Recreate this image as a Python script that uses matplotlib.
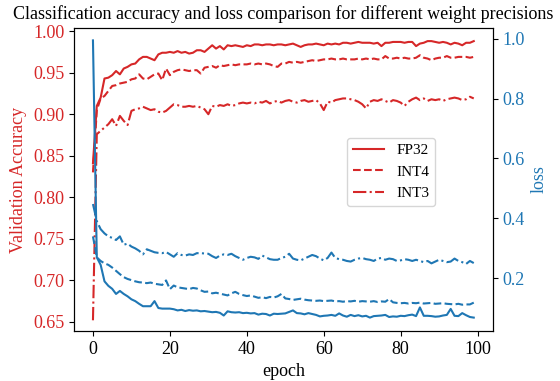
import numpy as np
import matplotlib
matplotlib.use("Agg")
import matplotlib.pyplot as plt

plt.rcParams['font.family'] = ['Liberation Serif', 'DejaVu Serif']
plt.rcParams['mathtext.fontset'] = 'stix'

# エポック
epochs = np.arange(100)

# 検証精度
acc_fp32 = [
    0.841, 0.910, 0.920, 0.943, 0.944, 0.947, 0.952, 0.948, 0.955, 0.957,
    0.960, 0.961, 0.966, 0.969, 0.969, 0.967, 0.965, 0.972, 0.974, 0.974,
    0.975, 0.974, 0.976, 0.974, 0.975, 0.973, 0.974, 0.977, 0.977, 0.975,
    0.979, 0.983, 0.979, 0.982, 0.978, 0.983, 0.982, 0.983, 0.982, 0.981,
    0.983, 0.982, 0.984, 0.984, 0.983, 0.984, 0.984, 0.983, 0.984, 0.984,
    0.983, 0.984, 0.985, 0.983, 0.981, 0.983, 0.984, 0.984, 0.985, 0.984,
    0.983, 0.985, 0.984, 0.985, 0.984, 0.986, 0.986, 0.985, 0.986, 0.987,
    0.986, 0.986, 0.986, 0.985, 0.986, 0.982, 0.986, 0.986, 0.987, 0.987,
    0.987, 0.986, 0.987, 0.987, 0.982, 0.985, 0.986, 0.988, 0.988, 0.987,
    0.986, 0.987, 0.986, 0.984, 0.986, 0.985, 0.983, 0.986, 0.986, 0.988,
]
acc_int4 = [
    0.830, 0.905, 0.919, 0.922, 0.928, 0.934, 0.935, 0.937, 0.938, 0.939,
    0.942, 0.943, 0.948, 0.943, 0.942, 0.945, 0.948, 0.949, 0.941, 0.955,
    0.947, 0.951, 0.953, 0.954, 0.953, 0.952, 0.953, 0.953, 0.949, 0.956,
    0.957, 0.958, 0.956, 0.959, 0.958, 0.959, 0.960, 0.959, 0.960, 0.960,
    0.960, 0.961, 0.960, 0.961, 0.960, 0.961, 0.960, 0.958, 0.957, 0.961,
    0.961, 0.963, 0.962, 0.963, 0.962, 0.963, 0.964, 0.965, 0.964, 0.965,
    0.966, 0.966, 0.967, 0.966, 0.966, 0.967, 0.966, 0.966, 0.966, 0.967,
    0.966, 0.967, 0.966, 0.967, 0.966, 0.966, 0.970, 0.967, 0.967, 0.968,
    0.967, 0.968, 0.967, 0.967, 0.968, 0.971, 0.968, 0.967, 0.965, 0.967,
    0.968, 0.968, 0.970, 0.968, 0.968, 0.969, 0.969, 0.969, 0.968, 0.969,
]
acc_int3 = [
    0.652, 0.876, 0.880, 0.884, 0.888, 0.894, 0.886, 0.898, 0.892, 0.887,
    0.904, 0.906, 0.907, 0.909, 0.907, 0.905, 0.906, 0.903, 0.902, 0.904,
    0.908, 0.912, 0.911, 0.909, 0.909, 0.910, 0.909, 0.910, 0.908, 0.906,
    0.900, 0.910, 0.909, 0.911, 0.910, 0.912, 0.910, 0.911, 0.913, 0.914,
    0.913, 0.914, 0.913, 0.915, 0.914, 0.916, 0.913, 0.915, 0.916, 0.914,
    0.916, 0.917, 0.915, 0.914, 0.916, 0.917, 0.915, 0.916, 0.917, 0.913,
    0.905, 0.915, 0.914, 0.917, 0.918, 0.919, 0.919, 0.918, 0.917, 0.915,
    0.912, 0.907, 0.915, 0.917, 0.916, 0.918, 0.916, 0.914, 0.917, 0.916,
    0.914, 0.910, 0.915, 0.918, 0.920, 0.917, 0.919, 0.916, 0.918, 0.917,
    0.918, 0.916, 0.918, 0.919, 0.920, 0.919, 0.917, 0.918, 0.921, 0.919,
]

# 損失
loss_fp32 = [
    0.994, 0.270, 0.245, 0.190, 0.175, 0.165, 0.148, 0.158, 0.148, 0.140,
    0.130, 0.124, 0.115, 0.107, 0.107, 0.107, 0.124, 0.101, 0.099, 0.099,
    0.099, 0.097, 0.093, 0.095, 0.091, 0.094, 0.092, 0.093, 0.090, 0.091,
    0.089, 0.087, 0.088, 0.085, 0.076, 0.090, 0.087, 0.086, 0.087, 0.084,
    0.085, 0.083, 0.084, 0.079, 0.082, 0.081, 0.076, 0.082, 0.081, 0.082,
    0.083, 0.088, 0.093, 0.084, 0.083, 0.080, 0.084, 0.081, 0.078, 0.073,
    0.075, 0.076, 0.078, 0.075, 0.083, 0.076, 0.072, 0.078, 0.074, 0.077,
    0.073, 0.075, 0.069, 0.074, 0.075, 0.076, 0.078, 0.071, 0.073, 0.072,
    0.075, 0.074, 0.077, 0.079, 0.074, 0.103, 0.075, 0.075, 0.074, 0.072,
    0.073, 0.076, 0.078, 0.098, 0.075, 0.074, 0.084, 0.077, 0.071, 0.069,
]
loss_int4 = [
    0.340, 0.270, 0.258, 0.250, 0.245, 0.236, 0.225, 0.214, 0.204, 0.198,
    0.194, 0.190, 0.187, 0.186, 0.184, 0.186, 0.182, 0.180, 0.178, 0.193,
    0.164, 0.176, 0.170, 0.168, 0.166, 0.164, 0.168, 0.166, 0.160, 0.155,
    0.156, 0.150, 0.152, 0.149, 0.146, 0.143, 0.150, 0.155, 0.148, 0.144,
    0.141, 0.143, 0.139, 0.135, 0.137, 0.134, 0.138, 0.136, 0.140, 0.148,
    0.133, 0.131, 0.128, 0.130, 0.132, 0.129, 0.127, 0.126, 0.125, 0.126,
    0.124, 0.125, 0.126, 0.123, 0.124, 0.122, 0.124, 0.123, 0.125, 0.122,
    0.124, 0.123, 0.122, 0.124, 0.121, 0.123, 0.122, 0.131, 0.120, 0.118,
    0.117, 0.118, 0.116, 0.118, 0.117, 0.119, 0.116, 0.117, 0.118, 0.115,
    0.116, 0.117, 0.115, 0.114, 0.113, 0.115, 0.112, 0.113, 0.113, 0.119,
]
loss_int3 = [
    0.448, 0.391, 0.364, 0.350, 0.340, 0.335, 0.328, 0.340, 0.312, 0.316,
    0.306, 0.300, 0.292, 0.280, 0.297, 0.292, 0.287, 0.285, 0.284, 0.288,
    0.280, 0.272, 0.284, 0.278, 0.276, 0.280, 0.278, 0.284, 0.284, 0.283,
    0.282, 0.274, 0.268, 0.276, 0.280, 0.278, 0.282, 0.274, 0.268, 0.262,
    0.268, 0.272, 0.270, 0.265, 0.276, 0.270, 0.264, 0.262, 0.262, 0.268,
    0.272, 0.282, 0.266, 0.262, 0.260, 0.266, 0.272, 0.278, 0.274, 0.266,
    0.260, 0.268, 0.286, 0.268, 0.264, 0.262, 0.258, 0.256, 0.262, 0.266,
    0.268, 0.264, 0.262, 0.258, 0.266, 0.268, 0.262, 0.266, 0.264, 0.258,
    0.260, 0.264, 0.262, 0.258, 0.262, 0.258, 0.254, 0.258, 0.250, 0.256,
    0.262, 0.258, 0.254, 0.256, 0.266, 0.258, 0.254, 0.248, 0.258, 0.251,
]

red = 'tab:red'
blue = 'tab:blue'

fig = plt.figure(figsize=(5.6, 3.81), dpi=100)
ax = fig.add_axes([0.132, 0.131, 0.748, 0.796])

ax.plot(epochs, acc_fp32, color=red, linestyle='-', label='FP32')
ax.plot(epochs, acc_int4, color=red, linestyle='--', label='INT4')
ax.plot(epochs, acc_int3, color=red, linestyle='-.', label='INT3')
ax.set_ylim(0.639, 1.004)
ax.set_xlim(-4.95, 103.95)
ax.set_yticks(np.arange(0.65, 1.001, 0.05))
ax.set_yticklabels([f'{v:.2f}' for v in np.arange(0.65, 1.001, 0.05)])
ax.set_xticks([0, 20, 40, 60, 80, 100])
ax.set_xlabel('epoch', fontsize=13)
ax.set_ylabel('Validation Accuracy', color=red, fontsize=13)
ax.tick_params(axis='y', labelcolor=red, labelsize=13)
ax.tick_params(axis='x', labelsize=13)
ax.legend(loc='center right', bbox_to_anchor=(0.881, 0.525), fontsize=11)

ax2 = ax.twinx()
ax2.plot(epochs, loss_fp32, color=blue, linestyle='-')
ax2.plot(epochs, loss_int4, color=blue, linestyle='--')
ax2.plot(epochs, loss_int3, color=blue, linestyle='-.')
ax2.set_ylim(0.024, 1.036)
ax2.set_yticks([0.2, 0.4, 0.6, 0.8, 1.0])
ax2.set_ylabel('loss', color=blue, fontsize=13)
ax2.tick_params(axis='y', labelcolor=blue, labelsize=13)

ax.set_title('Classification accuracy and loss comparison for different weight precisions', fontsize=13)

fig.savefig('out.png', dpi=100)
